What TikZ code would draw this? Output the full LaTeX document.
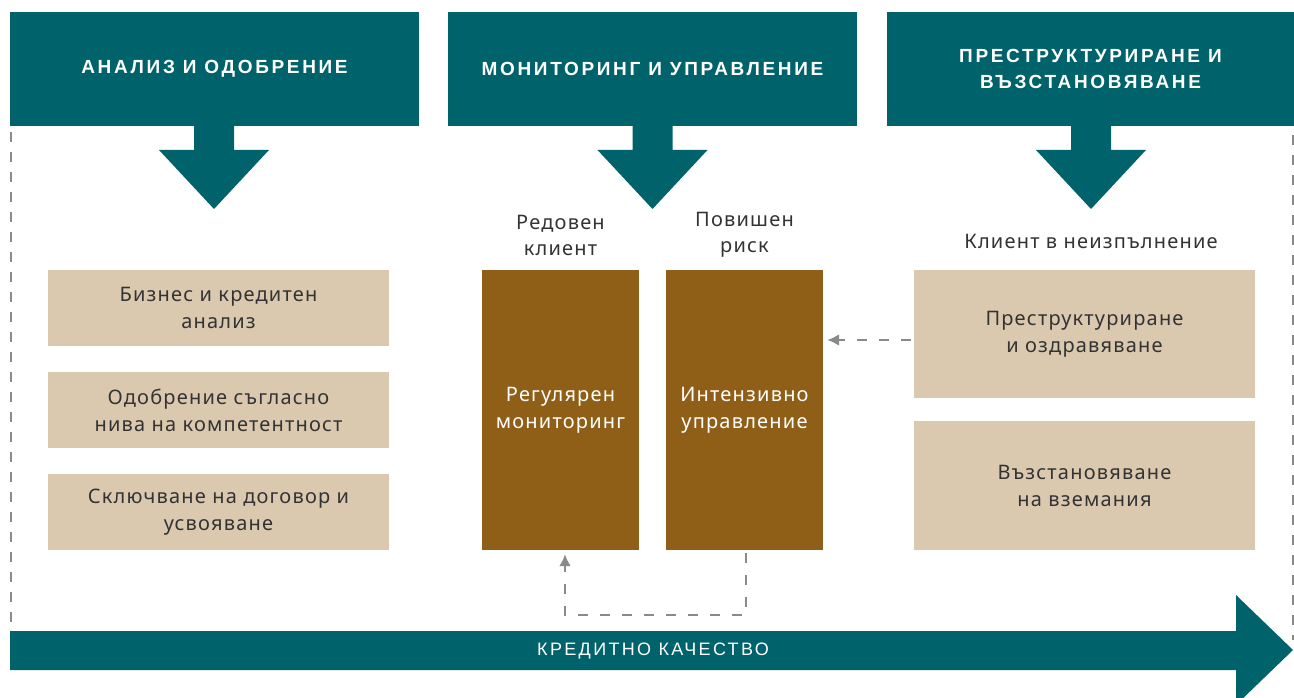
\documentclass[tikz,border=0pt]{standalone}
\usepackage{fontspec}
\setmainfont{Noto Sans}[Language=Bulgarian]
\newfontfamily\hdrfont{Liberation Sans}[LetterSpace=14]
\newfontfamily\barfont{Liberation Sans}[LetterSpace=13]
\newfontfamily\bodyfont{Noto Sans}[LetterSpace=6]
\usetikzlibrary{arrows.meta}
\definecolor{teal}{HTML}{00626A}
\definecolor{tan}{HTML}{DAC9AE}
\definecolor{brn}{HTML}{8F5F18}
\definecolor{dgray}{HTML}{8A8A8A}
\definecolor{txt}{HTML}{333333}
\begin{document}
\begin{tikzpicture}[x=1pt,y=-1pt,
  hdr/.style={fill=teal,text=white,font=\hdrfont\bfseries\fontsize{19}{26}\selectfont,align=center,inner sep=0pt,minimum height=114pt},
  tanbox/.style={fill=tan,text=txt,font=\bodyfont\fontsize{20}{27}\selectfont,align=center,inner sep=0pt,minimum width=341pt},
  brnbox/.style={fill=brn,text=white,font=\bodyfont\fontsize{20}{27}\selectfont,align=center,inner sep=0pt,minimum width=157pt,minimum height=280pt},
  lbl/.style={text=txt,font=\bodyfont\fontsize{20}{26}\selectfont,align=center,inner sep=0pt},
  dsh/.style={draw=dgray,line width=2.5pt,dash pattern=on 10pt off 12pt,-{Latex[length=12pt,width=12pt]}},
  pagedash/.style={draw=dgray,line width=2pt,dash pattern=on 10pt off 10pt}
]
\useasboundingbox (0,0) rectangle (1294,698);
\clip (0,0) rectangle (1294,698);
% page dashed borders
\draw[pagedash] (11,132) -- (11,628);
\draw[pagedash] (1293,135) -- (1293,640);
% headers
\node[hdr,minimum width=409pt] (h1) at (214.5,69) {АНАЛИЗ И ОДОБРЕНИЕ};
\node[hdr,minimum width=409pt] (h2) at (652.5,69) {МОНИТОРИНГ И УПРАВЛЕНИЕ};
\node[hdr,minimum width=407pt] (h3) at (1090.5,69) {ПРЕСТРУКТУРИРАНЕ И\\ВЪЗСТАНОВЯВАНЕ};
% down arrows
\foreach \n/\cx in {h1/214,h2/652.5,h3/1091}{
  \fill[teal] (\cx-20,126) -- (\cx+20,126) -- (\cx+20,150) -- (\cx+55,150) -- (\cx,209) -- (\cx-55,150) -- (\cx-20,150) -- cycle;
}
% left boxes
\node[tanbox,minimum height=76pt] (l1) at (218.5,308) {Бизнес и кредитен\\анализ};
\node[tanbox,minimum height=76pt] (l2) at (218.5,410) {Одобрение съгласно\\нива на компетентност};
\node[tanbox,minimum height=76pt] (l3) at (218.5,512) {Сключване на договор и\\усвояване};
% middle
\node[lbl] (t1) at (560.5,235) {Редовен\\клиент};
\node[lbl] (t2) at (744.5,235) {Повишен\\риск};
\node[brnbox] (b1) at (560.5,410) {Регулярен\\мониторинг};
\node[brnbox] (b2) at (744.5,410) {Интензивно\\управление};
% right
\node[lbl] (t3) at (1091,241) {Клиент в неизпълнение};
\node[tanbox,minimum height=128pt] (r1) at (1084.5,334) {Преструктуриране\\и оздравяване};
\node[tanbox,minimum height=129pt] (r2) at (1084.5,485.5) {Възстановяване\\на вземания};
% dashed connectors
\coordinate (a) at ([xshift=-3pt,yshift=-6pt]r1.west);
\draw[dsh,shorten >=4pt] (a) -- (a -| b2.east);
\draw[dsh] ([xshift=1.5pt,yshift=-3pt]b2.south) -- ++(0,62) -| ([xshift=4.5pt,yshift=-4pt]b1.south);
% bottom arrow
\fill[teal] (10,631) -- (1236,631) -- (1236,595) -- (1293,650) -- (1236,705) -- (1236,670) -- (10,670) -- cycle;
\node[text=white,font=\barfont\fontsize{18}{20}\selectfont,inner sep=0pt] (q) at (653,651) {КРЕДИТНО КАЧЕСТВО};
\end{tikzpicture}
\end{document}
